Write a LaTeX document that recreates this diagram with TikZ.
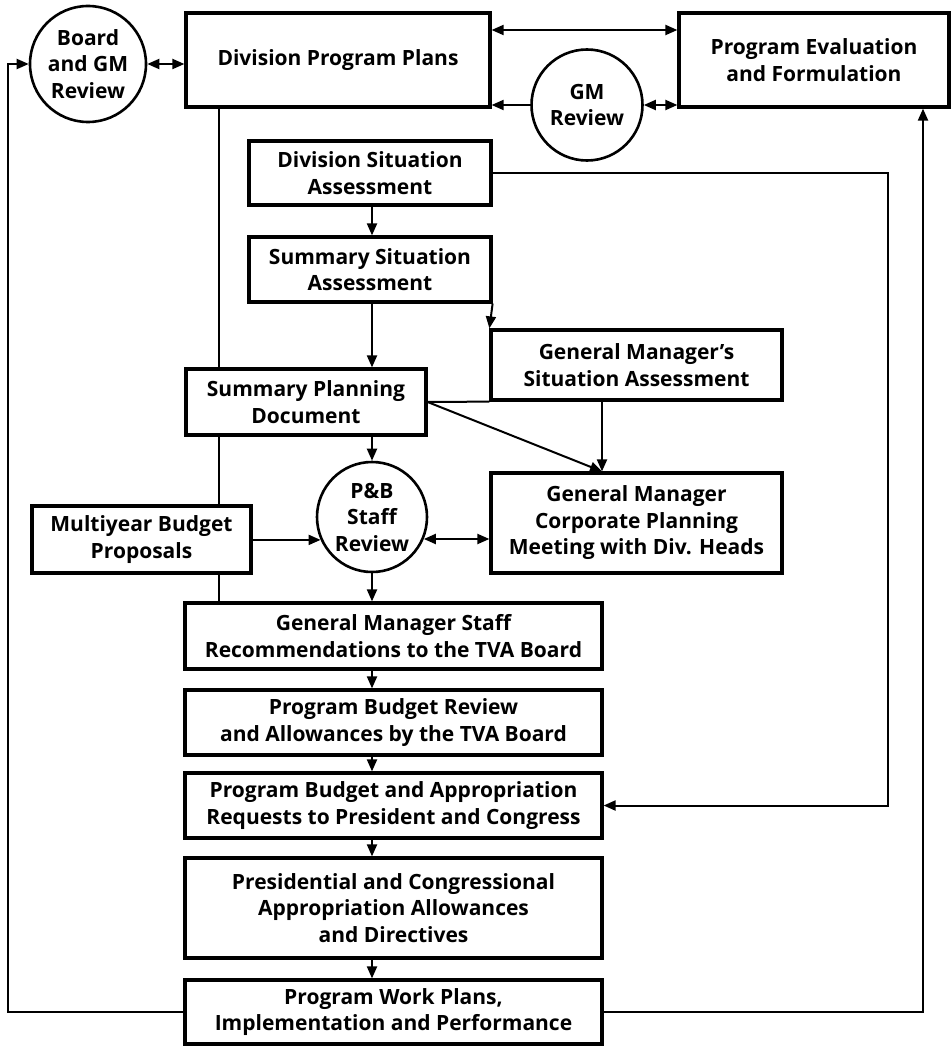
\documentclass[tikz,border=0pt]{standalone}
\usepackage{fontspec}
\setmainfont{Open Sans}
\usetikzlibrary{arrows.meta}
\newcommand{\diaglbl}{\bfseries\fontsize{21}{26.5}\selectfont}
\begin{document}
\begin{tikzpicture}[x=1pt,y=-1pt,
  box/.style={draw, line width=3.2pt, inner sep=0pt, align=center, font=\diaglbl},
  rev/.style={draw, circle, line width=2.6pt, inner sep=0pt, align=center, font=\diaglbl},
  conn/.style={line width=2pt, -{Triangle[length=12pt,width=10pt]}},
  dconn/.style={line width=2pt, {Triangle[length=12pt,width=10pt]}-{Triangle[length=12pt,width=10pt]}},
  plain/.style={line width=2pt},
  thinline/.style={line width=1.1pt}
]
\useasboundingbox (0,0) rectangle (950,1046);

% nodes
\node[rev, minimum size=116pt] (board) at (88,64) {Board\\and GM\\Review};
\node[box, minimum width=304pt, minimum height=94pt] (dpp) at (338,60) {Division Program Plans};
\node[box, minimum width=270pt, minimum height=94pt] (pef) at (814,60) {Program Evaluation\\and Formulation};
\node[rev, minimum size=111pt] (gmr) at (587,105) {GM\\Review};
\node[box, minimum width=242pt, minimum height=64pt] (dsa) at (370,173) {Division Situation\\Assessment};
\node[box, minimum width=242pt, minimum height=65pt] (ssa) at (370,269.5) {Summary Situation\\Assessment};
\node[box, minimum width=240pt, minimum height=66pt] (spd) at (306,402) {Summary Planning\\Document};
\node[box, minimum width=291pt, minimum height=70pt] (gmsa) at (636.5,365) {General Manager’s\\Situation Assessment};
\node[rev, minimum size=110pt] (pbr) at (372,517) {P\&B\\Staff\\Review};
\node[box, minimum width=219pt, minimum height=67pt] (myb) at (141.5,539.5) {Multiyear Budget\\Proposals};
\node[box, minimum width=291pt, minimum height=100pt] (gmcp) at (636.5,523) {General Manager\\Corporate Planning\\Meeting with Div. Heads};
\node[box, minimum width=417pt, minimum height=66pt] (gmsr) at (393.5,636) {General Manager Staff\\Recommendations to the TVA Board};
\node[box, minimum width=417pt, minimum height=65pt] (pbrev) at (393.5,722.5) {Program Budget Review\\and Allowances by the TVA Board};
\node[box, minimum width=417pt, minimum height=65pt] (pba) at (393.5,805.5) {Program Budget and Appropriation\\Requests to President and Congress};
\node[box, minimum width=417pt, minimum height=100pt] (pca) at (393.5,908) {Presidential and Congressional\\Appropriation Allowances\\and Directives};
\node[box, minimum width=417pt, minimum height=64pt] (pwp) at (393.5,1012) {Program Work Plans,\\Implementation and Performance};

% helper coordinates
\coordinate (lc) at (8,0);
\coordinate (rc) at (923,0);
\coordinate (rc2) at (888,0);
\coordinate (jx) at (602,0);
\coordinate (lx) at (219,0);
\coordinate (ttop) at (0,30);

% top connectors
\draw[dconn] (board.east) -- (board.east -| dpp.west);
\draw[dconn] (dpp.east |- ttop) -- (pef.west |- ttop);
\draw[conn] (gmr.west) -- (gmr.west -| dpp.east);
\draw[dconn] (gmr.east) -- (gmr.east -| pef.west);

% feedback loops
\draw[conn] (pwp.west) -| (lc |- board.west) -- (board.west);
\draw[conn] (pwp.east) -| (rc |- pef.south);
\draw[conn] (dsa.east) -| (rc2 |- pba.east) -- (pba.east);

% middle
\draw[conn] (dsa.south -| pbr) -- (ssa.north -| pbr);
\draw[conn] (ssa.south -| pbr) -- (spd.north -| pbr);
\draw[conn] (ssa.south east) -- (gmsa.north west);
\draw[plain] (spd.east) -- (gmsa.south west);
\draw[conn] (gmsa.south -| jx) -- (gmcp.north -| jx);
\draw[conn] (spd.east) -- (gmcp.north -| jx);
\draw[conn] (spd.south -| pbr) -- (pbr.north);
\draw[conn] (myb.east |- pbr.204) -- (pbr.204);
\draw[dconn] (pbr.-23) -- (pbr.-23 -| gmcp.west);
\draw[conn] (pbr.south) -- (gmsr.north -| pbr);

% thin vertical line
\draw[thinline] (dpp.south -| lx) -- (spd.north -| lx);
\draw[thinline] (spd.south -| lx) -- (myb.north -| lx);
\draw[thinline] (myb.south -| lx) -- (gmsr.north -| lx);

% main column
\draw[conn] (gmsr.south -| pbr) -- (pbrev.north -| pbr);
\draw[conn] (pbrev.south -| pbr) -- (pba.north -| pbr);
\draw[conn] (pba.south -| pbr) -- (pca.north -| pbr);
\draw[conn] (pca.south -| pbr) -- (pwp.north -| pbr);
\end{tikzpicture}
\end{document}
